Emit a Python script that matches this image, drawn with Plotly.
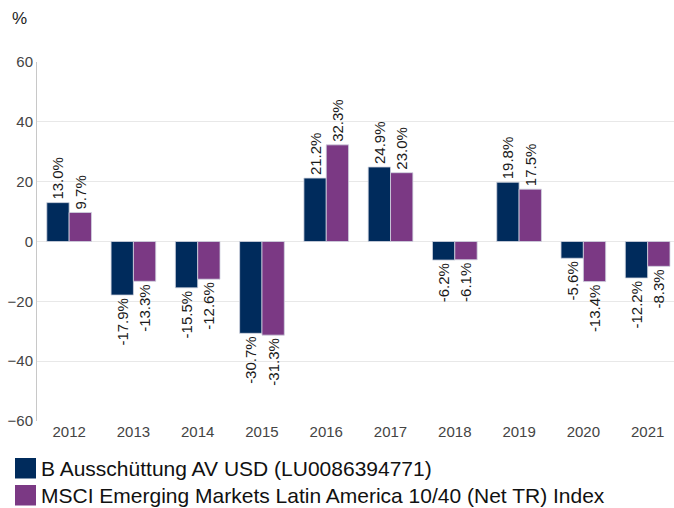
import plotly.graph_objects as go

years = ["2012", "2013", "2014", "2015", "2016", "2017", "2018", "2019", "2020", "2021"]
fund_name = "B Ausschüttung AV USD (LU0086394771)"
index_name = "MSCI Emerging Markets Latin America 10/40 (Net TR) Index"
fund_values = [13.0, -17.9, -15.5, -30.7, 21.2, 24.9, -6.2, 19.8, -5.6, -12.2]
index_values = [9.7, -13.3, -12.6, -31.3, 32.3, 23.0, -6.1, 17.5, -13.4, -8.3]
y_ticks = [-60, -40, -20, 0, 20, 40, 60]

navy = "#002b5c"
purple = "#7b3984"
font = "Liberation Sans, Arial, sans-serif"

W, H = 674, 508
ML, MR, MT, MB = 37, 0, 62, 87
PW, PH = W - ML - MR, H - MT - MB

fig = go.Figure()
for name, vals, col in [(fund_name, fund_values, navy), (index_name, index_values, purple)]:
    fig.add_trace(go.Bar(
        x=years, y=vals, name=name,
        marker=dict(color=col, line=dict(color="#d0d4e0", width=0.8)),
        text=[f"{v:.1f}%" for v in vals],
        textposition="outside", textangle=-90,
        textfont=dict(family=font, size=15, color="#1a1a1a"),
        constraintext="none", cliponaxis=False,
    ))

fig.update_layout(
    width=W, height=H,
    margin=dict(l=ML, r=MR, t=MT, b=MB),
    paper_bgcolor="white", plot_bgcolor="white",
    barmode="group", bargap=0.305, bargroupgap=0.0,
    showlegend=False,
    font=dict(family=font, color="#444"),
    xaxis=dict(showgrid=False, tickfont=dict(size=15, color="#444"), ticks="",
               showline=False, range=[-0.5, 9.41]),
    yaxis=dict(range=[-60, 60], tickvals=y_ticks, showgrid=True, gridcolor="#e8e8e8",
               zeroline=False, showline=True, linecolor="#c8c8c8", linewidth=1,
               tickfont=dict(size=15, color="#444"), ticks=""),
)

def px(x):
    return (x - ML) / PW

def py(y):
    return (H - MB - y) / PH

fig.add_annotation(text="%", xref="paper", yref="paper", x=px(10), y=py(18),
                   xanchor="left", yanchor="middle", showarrow=False,
                   font=dict(family=font, size=17, color="#222"))

# manual legend
for i, (name, col) in enumerate([(fund_name, navy), (index_name, purple)]):
    yc = 468 + i * 27
    fig.add_shape(type="rect", xref="paper", yref="paper",
                  x0=px(15), x1=px(36), y0=py(yc - 10), y1=py(yc + 10.5),
                  fillcolor=col, line=dict(width=0))
    fig.add_annotation(text=name, xref="paper", yref="paper",
                       x=px(39), y=py(yc + 0.5),
                       xanchor="left", yanchor="middle", showarrow=False,
                       font=dict(family=font, size=21, color="#111"))

fig.write_html("out.html", config={"displayModeBar": False},
               post_script="document.body.style.margin='0';document.body.style.overflow='hidden';")
